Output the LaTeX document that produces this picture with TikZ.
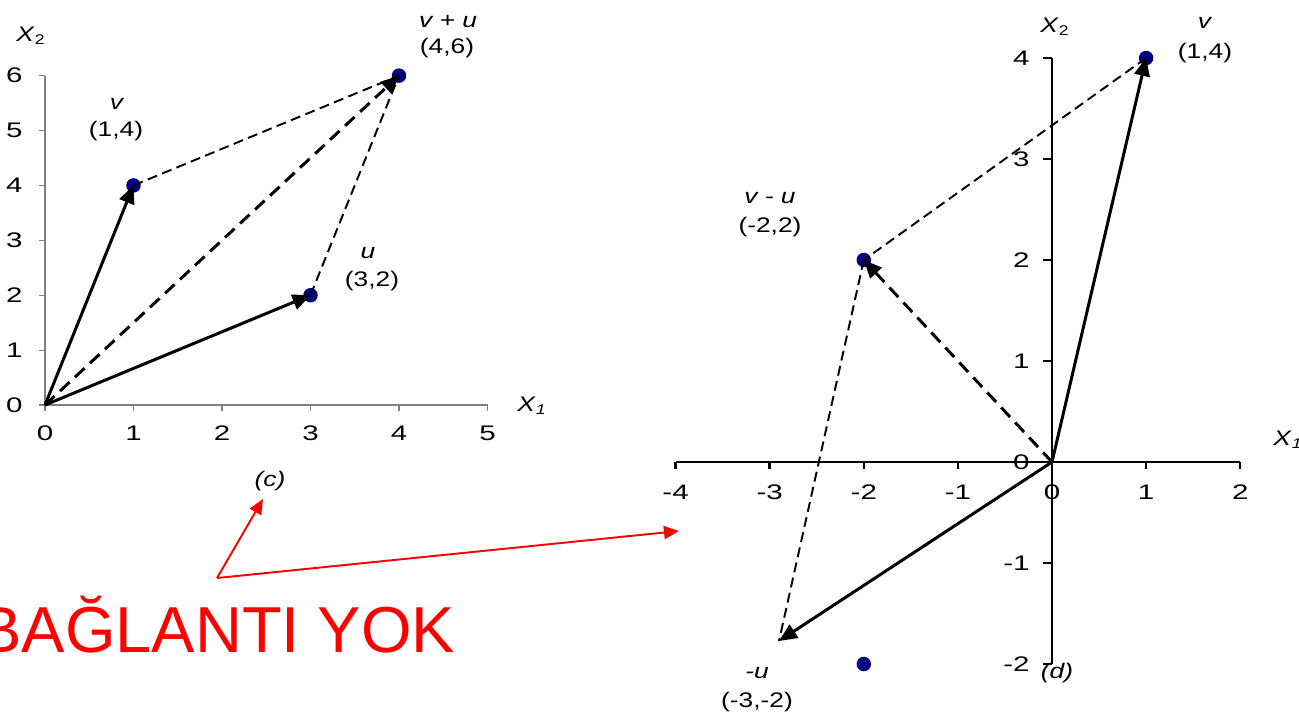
\documentclass[tikz,border=0pt]{standalone}
\usepackage{fontspec}
\setmainfont{Liberation Sans}
\usetikzlibrary{arrows.meta}
\definecolor{ptblue}{RGB}{0,0,128}
\definecolor{axisgray}{RGB}{128,128,128}
\newcommand{\widetxt}[2][1.25]{\scalebox{#1}[1]{#2}}

\begin{document}
\begin{tikzpicture}[x=0.02cm,y=-0.02cm,
  tick/.style={font=\fontsize{12}{14}\selectfont,inner sep=0pt},
  lab/.style={font=\fontsize{12}{14}\selectfont,inner sep=0pt},
  dot/.style={circle,fill=ptblue,inner sep=0pt,minimum size=0.29cm},
  vec/.style={line width=1.7pt,-{Triangle[length=0.36cm,width=0.31cm]}},
  dvec/.style={vec,dash pattern=on 0.26cm off 0.15cm},
  guide/.style={line width=1.1pt,dash pattern=on 0.2cm off 0.11cm},
  note/.style={red,line width=1.1pt,-{Triangle[length=0.3cm,width=0.26cm]}}]
\useasboundingbox (0,0) rectangle (1299,721);

% (c): v, u and v + u
\draw[axisgray,line width=0.6pt] (45,75.6) -- (45,405) -- (487.5,405);
\foreach \i in {0,...,5} {
  \draw[axisgray,line width=0.6pt] (45+88.5*\i,405) -- ++(0,6);
  \node[tick] (XL\i) at (45+88.5*\i,433) {\widetxt[1.4]{\i}};
}
\foreach \j in {0,...,6} {
  \draw[axisgray,line width=0.6pt] (45,405-54.9*\j) -- ++(-6,0);
  \node[tick,anchor=east] (YL\j) at (23,405-54.9*\j) {\widetxt[1.4]{\j}};
}
\node[lab] (XA) at (532,406) {\widetxt{\textit{X}\textsubscript{\textit{1}}}};
\node[lab] (YA) at (31,36) {\widetxt{\textit{X}\textsubscript{2}}};

\coordinate (O) at (45,405);
\node[dot] (V) at (133.5,185.4) {};
\node[dot] (U) at (310.5,295.2) {};
\node[dot] (VU) at (399,75.6) {};

\draw[guide] (V.center) -- (VU.center);
\draw[guide] (U.center) -- (VU.center);
\draw[vec] (O) -- (V.center);
\draw[vec] (O) -- (U.center);
\draw[dvec] (O) -- (VU.center);

\node[lab] (LV) at (117,104) {\widetxt{\textit{v}}};
\node[lab] (PV) at (116,131) {\widetxt{(1,4)}};
\node[lab] (LU) at (368,253) {\widetxt{\textit{u}}};
\node[lab] (PU) at (372,281) {\widetxt{(3,2)}};
\node[lab] (LVU) at (448,22) {\widetxt{\textit{v + u}}};
\node[lab] (PVU) at (447,48) {\widetxt{(4,6)}};
\node[lab] (C) at (270,481) {\widetxt{\textit{(c)}}};

% (d): v, -u and v - u
\draw[line width=0.6pt] (1052,58) -- (1052,664);
\foreach \j [count=\k] in {-2,...,4} {
  \draw[line width=0.6pt] (1052,462-101*\j) -- ++(-9,0);
  \node[tick,anchor=east] (YR\k) at (1030,462-101*\j) {\widetxt[1.4]{\j}};
}
\draw[line width=1.4pt] (675.6,462) -- (1240.2,462);
\foreach \i [count=\k] in {-4,...,2} {
  \draw[line width=1.4pt] (1052+94.1*\i,462) -- ++(0,7);
  \node[tick] (XR\k) at (1052+94.1*\i,492) {\widetxt[1.4]{\i}};
}
\node[lab] (XB) at (1288,440) {\widetxt{\textit{X}\textsubscript{\textit{1}}}};
\node[lab] (YB) at (1055,27) {\widetxt{\textit{X}\textsubscript{2}}};

\coordinate (O2) at (1052,462);
\coordinate (MU) at (779,641);
\node[dot] (V2) at (1146.1,58) {};
\node[dot] (VMU) at (863.8,260) {};
\node[dot] (D) at (863.8,664) {};

\draw[guide] (V2.center) -- (VMU.center);
\draw[guide] (VMU.center) -- (MU);
\draw[vec] (O2) -- (V2.center);
\draw[vec] (O2) -- (MU);
\draw[dvec] (O2) -- (VMU.center);

\node[lab] (LV2) at (1205,23) {\widetxt{\textit{v}}};
\node[lab] (PV2) at (1205,53) {\widetxt{(1,4)}};
\node[lab] (LVMU) at (770,198) {\widetxt{\textit{v - u}}};
\node[lab] (PVMU) at (770,227) {\widetxt{(-2,2)}};
\node[lab] (LMU) at (757,673) {\widetxt{\textit{-u}}};
\node[lab] (PMU) at (757,702) {\widetxt{(-3,-2)}};
\node[lab] (DL) at (1057,673) {\widetxt{\textit{(d)}}};

% note
\node[font=\fontsize{37}{40}\selectfont,red,inner sep=0pt,anchor=base west] (NOTE) at (-22,652) {BAĞLANTI YOK};
\coordinate (K) at (217,578);
\coordinate (KC) at (263,499);
\coordinate (KD) at (679,531);
\draw[note] (K) -- (KC);
\draw[note] (K) -- (KD);
\end{tikzpicture}
\end{document}
